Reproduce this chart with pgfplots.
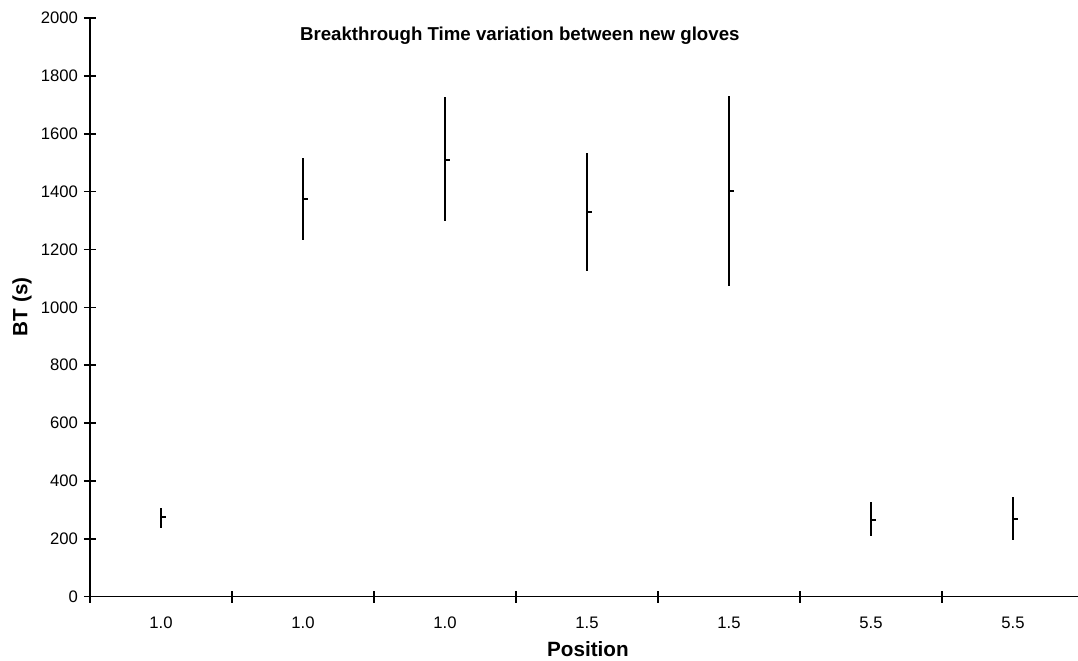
\documentclass[border=0pt]{standalone}
\usepackage{fontspec}
\setmainfont{Liberation Sans}
\usepackage{pgfplots}
\usepackage{pgfplotstable}
\pgfplotsset{compat=1.18}
\pgfdeclareplotmark{closetick}{\pgfpathmoveto{\pgfpointorigin}\pgfpathlineto{\pgfpoint{4pt}{0pt}}\pgfusepathqstroke}
\pgfplotstableread{
x close low high
0 275 239 308
1 1375 1233 1516
2 1509 1299 1726
3 1330 1127 1535
4 1403 1075 1731
5 266 208 326
6 269 197 344
}\data
\begin{document}
\begin{tikzpicture}
\useasboundingbox (-67.5pt,-48pt) rectangle (741pt,447.5pt);
\begin{axis}[
  at={(0,0)}, anchor=south west,
  scale only axis,
  width=741pt, height=434pt,
  xmin=-0.5, xmax=6.458, ymin=0, ymax=2000,
  axis x line*=bottom, axis y line*=left,
  axis line style={line width=1.2pt},
  every tick/.style={black, line width=1.2pt},
  tick align=center, major tick length=9pt,
  xtick={-0.5,0.5,...,5.5}, xticklabels={},
  extra x ticks={0,1,2,3,4,5,6},
  extra x tick labels={1.0,1.0,1.0,1.5,1.5,5.5,5.5},
  extra x tick style={major tick length=0pt, xticklabel style={anchor=base, yshift=-24pt}},
  ytick={0,200,...,2000},
  yticklabel style={/pgf/number format/1000 sep={}, xshift=-1pt},
  /pgf/number format/assume math mode=true,
  tick label style={font=\fontsize{12.5}{15}\selectfont},
  xlabel={\textbf{Position}}, ylabel={\textbf{BT (s)}},
  label style={font=\fontsize{15.5}{18}\selectfont},
  xlabel style={at={(axis description cs:0.504,0)}, anchor=base, yshift=-44.5pt},
  ylabel style={at={(axis description cs:-0.0688,0.501)}, anchor=center},
  clip=false,
]
\addplot[black, only marks, mark=closetick, line width=1.6pt,
  error bars/.cd, y dir=both, y explicit, error mark=none,
  error bar style={line width=1.6pt, black}]
  table[x=x, y=close, y error plus expr=\thisrow{high}-\thisrow{close}, y error minus expr=\thisrow{close}-\thisrow{low}] {\data};
\node[font=\fontsize{14}{16}\selectfont\bfseries] at (rel axis cs:0.435,0.969) {Breakthrough Time variation between new gloves};
\end{axis}
\end{tikzpicture}
\end{document}
